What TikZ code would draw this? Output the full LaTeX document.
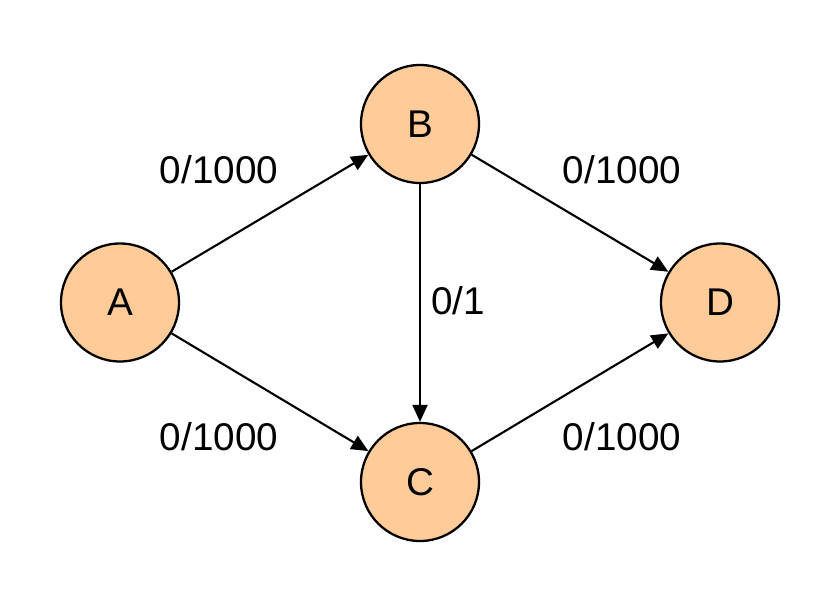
\documentclass[tikz,border=0pt]{standalone}
\usepackage{fontspec}
\setmainfont{Liberation Sans}
\usetikzlibrary{arrows.meta}
\definecolor{peach}{HTML}{FFCC99}

\begin{document}
\begin{tikzpicture}[
  vertex/.style={circle,draw=black,fill=peach,line width=1.3pt,minimum size=2.36cm,inner sep=0pt,font=\fontsize{22}{26}\selectfont},
  flow/.style={line width=1.2pt,-{Triangle[length=0.34cm,width=0.3cm]}},
  flowlabel/.style={font=\fontsize{22}{26}\selectfont}]
\useasboundingbox[fill=white] (0,0) rectangle (16.8,11.98);
\foreach \name/\x/\y in {A/2.4/5.93, B/8.4/9.5, C/8.4/2.34, D/14.4/5.93}{
  \node[vertex] (\name) at (\x,\y) {\name};
}
\foreach \u/\v in {A/B, A/C, B/C, B/D, C/D}{
  \draw[flow] (\u) -- (\v);
}
\node[flowlabel] (ab) at (4.38,8.58) {0/1000};
\node[flowlabel] (bd) at (12.44,8.58) {0/1000};
\node[flowlabel] (ac) at (4.38,3.24) {0/1000};
\node[flowlabel] (cd) at (12.44,3.24) {0/1000};
\node[flowlabel] (bc) at (9.16,5.96) {0/1};
\end{tikzpicture}
\end{document}
